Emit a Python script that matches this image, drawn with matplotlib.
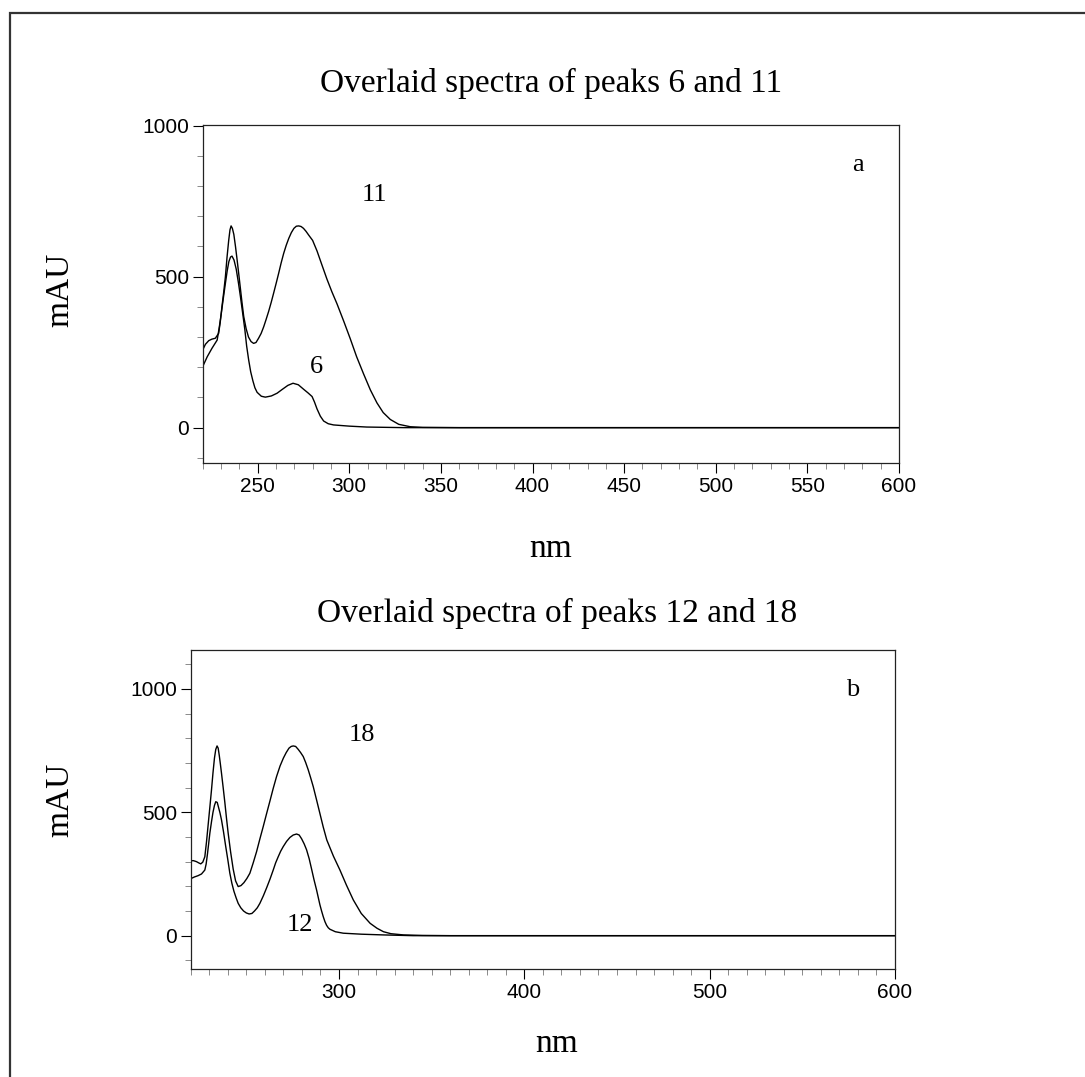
import matplotlib
matplotlib.use("Agg")
import matplotlib.pyplot as plt
from matplotlib.patches import Rectangle
from matplotlib.ticker import MultipleLocator

# spectrum a: peaks 6 and 11 (nm, mAU)
nm_11 = [220, 221.5, 223.3, 225, 226.9, 228.7, 229.6, 230.5, 231.5, 232.4, 233.3, 234.2,
         234.9, 235.5, 236.2, 237, 237.9, 238.8, 239.7, 240.6, 241.5, 242.4, 243.7,
         245, 246.4, 247.8, 249.1, 250.5, 251.9, 253.3, 254.6, 256, 257.4, 258.7, 260.1,
         261.5, 262.8, 264.2, 265.6, 267, 268.4, 269.8, 271.1, 272.4, 273.7, 275, 276.4,
         277.8, 280, 282.4, 285, 287.8, 290.5, 293.3, 297, 300.5, 304, 307.8, 311.5,
         315.1, 318.5, 322.4, 327, 333.3, 340, 360, 400, 600]
mau_11 = [257, 276, 288, 293, 296, 312, 350, 400, 450, 500, 565, 620,
          655, 668, 660, 640, 600, 555, 508, 460, 412, 368, 328,
          300, 285, 279, 282, 296, 312, 334, 358, 385, 415, 445, 478,
          512, 545, 577, 604, 627, 646, 660, 667, 668, 666, 660, 650,
          638, 620, 585, 540, 492, 450, 410, 352, 295, 235, 178, 125,
          82, 50, 27, 11, 3, 1, 0, 0, 0]

nm_6 = [220, 222.5, 225.1, 227.9, 229, 230.2, 231.3, 232.4, 233.4, 234.3, 235.2, 236,
        237.1, 238.3, 239.5, 240.6, 241.8, 243, 244, 245.1, 246.2, 247.4, 248.5,
        249.7, 252, 254.2, 257.5, 260.6, 263.5, 266.5, 269.3, 272.2, 275.1,
        277.5, 279.7, 281, 282.4, 284.2, 286, 288.5, 291.4, 300, 309.5, 330, 600]
mau_6 = [202, 235, 263, 290, 330, 380, 430, 478, 520, 550, 565, 568,
         555, 525, 480, 434, 380, 325, 270, 224, 185, 155, 132,
         117, 104, 101, 105, 114, 127, 140, 147, 142, 127,
         115, 103, 85, 62, 38, 22, 13, 9, 5, 2, 0, 0]

# spectrum b: peaks 12 and 18
nm_18 = [220, 221.5, 223.1, 224.3, 225.4, 226.5, 227.6, 228.5, 229.4, 230.3, 231.2, 232,
         232.8, 233.5, 234.2, 234.8, 235.4, 236, 236.6, 237.5, 238.4, 239.3, 240.2,
         241.5, 242.9, 244.2, 245.6, 247.1, 248.7, 250.3, 251.9, 253.7, 255.5, 257.3,
         259.1, 260.9, 262.7, 264.5, 266.3, 268.2, 270, 271.5, 273, 274.2, 275.3, 276.6,
         278, 279.3, 280.7, 282, 283.4, 284.7, 286.1, 287.9, 289.7, 291.5, 293.4, 297,
         300.5, 304, 307.7, 312, 316.8, 320.5, 324, 328, 334.8, 345, 360, 400, 600]
mau_18 = [304, 304, 300, 295, 291, 298, 320, 380, 450, 520, 591, 660,
          720, 755, 769, 760, 730, 695, 658, 600, 540, 475, 415,
          340, 270, 222, 199, 203, 215, 232, 253, 295, 340, 392,
          442, 494, 545, 597, 645, 688, 720, 742, 760, 767, 769, 767,
          755, 742, 726, 702, 672, 640, 604, 550, 495, 440, 388, 322,
          266, 205, 145, 90, 50, 30, 16, 8, 3, 1, 0, 0, 0]

nm_12 = [220, 222, 223.9, 225.8, 227.6, 228.3, 229, 229.7, 230.3, 231.2, 232, 232.8,
         233.5, 234.3, 235, 235.8, 236.6, 237.7, 238.8, 240, 241.1, 242.2, 243.3,
         244.5, 245.6, 247, 248.5, 250, 251.5, 253, 254.4, 255.9, 257.3, 259.2, 261,
         262.8, 264.5, 265.8, 267.2, 268.5, 269.9, 271.7, 273.5, 275.3, 277.1, 278.5,
         279.8, 281.2, 282.5, 283.9, 285.2, 286.5, 287.9, 288.8, 289.7, 290.6, 291.5,
         292.4, 293.3, 294.2, 295.1, 298, 302.3, 312, 324, 340, 600]
mau_12 = [231, 238, 243, 250, 266, 290, 330, 375, 415, 462, 500, 528,
          543, 540, 520, 497, 469, 420, 365, 308, 253, 212, 180,
          153, 131, 113, 100, 92, 88, 90, 100, 113, 131, 162, 195,
          230, 266, 295, 320, 342, 361, 382, 398, 408, 412, 408,
          393, 372, 348, 312, 270, 227, 185, 155, 125, 100, 77,
          57, 42, 32, 26, 16, 10, 6, 3, 0, 0]

panels = [
    dict(pos=[0.1868, 0.5704, 0.6418, 0.3135], ylim=(-116, 1002), xmaj=50,
         title="Overlaid spectra of peaks 6 and 11", title_xy=(551, 83),
         nm_xy=(551, 549), mau_xy=(60, 290),
         curves=[(nm_11, mau_11), (nm_6, mau_6)],
         labels=[("a", 577.5, 870), ("11", 313.6, 770), ("6", 282, 201)]),
    dict(pos=[0.1758, 0.1003, 0.6491, 0.2962], ylim=(-135, 1158), xmaj=100,
         title="Overlaid spectra of peaks 12 and 18", title_xy=(557, 613),
         nm_xy=(557, 1044), mau_xy=(60, 800),
         curves=[(nm_18, mau_18), (nm_12, mau_12)],
         labels=[("b", 577.3, 996), ("18", 312.4, 814), ("12", 278.9, 43)]),
]

W, H = 1085, 1077
fig = plt.figure(figsize=(W / 100, H / 100), dpi=100)
serif = "Liberation Serif"
sans = "Liberation Sans"

# outer frame (top and left edges visible)
fig.patches.append(Rectangle((10 / W, -0.01), 1.2, (H - 13) / H + 0.01,
                             transform=fig.transFigure, fill=False,
                             edgecolor="#333333", linewidth=1.6))

for p in panels:
    ax = fig.add_axes(p["pos"])
    for x, y in p["curves"]:
        ax.plot(x, y, color="black", linewidth=1.0, solid_joinstyle="round")
    ax.set_xlim(220, 600)
    ax.set_ylim(*p["ylim"])
    ax.xaxis.set_major_locator(MultipleLocator(p["xmaj"]))
    ax.xaxis.set_minor_locator(MultipleLocator(10))
    ax.yaxis.set_major_locator(MultipleLocator(500))
    ax.yaxis.set_minor_locator(MultipleLocator(100))
    ax.tick_params(which="major", direction="out", length=7, width=0.8,
                   labelsize=15, pad=3)
    ax.tick_params(which="minor", direction="out", length=4, width=0.6,
                   color="#777777")
    for lab in ax.get_xticklabels() + ax.get_yticklabels():
        lab.set_fontfamily(sans)
    for s in ax.spines.values():
        s.set_linewidth(0.9)
        s.set_color("#222222")
    for txt, x, y in p["labels"]:
        ax.text(x, y, txt, fontfamily=serif, fontsize=19, ha="center", va="center")
    tx, ty = p["title_xy"]
    fig.text(tx / W, 1 - ty / H, p["title"], fontfamily=serif, fontsize=24,
             ha="center", va="center")
    nx, ny = p["nm_xy"]
    fig.text(nx / W, 1 - ny / H, "nm", fontfamily=serif, fontsize=24,
             ha="center", va="center")
    mx, my = p["mau_xy"]
    fig.text(mx / W, 1 - my / H, "mAU", fontfamily=serif, fontsize=24,
             rotation=90, ha="center", va="center")

fig.savefig("out.png", dpi=100)
